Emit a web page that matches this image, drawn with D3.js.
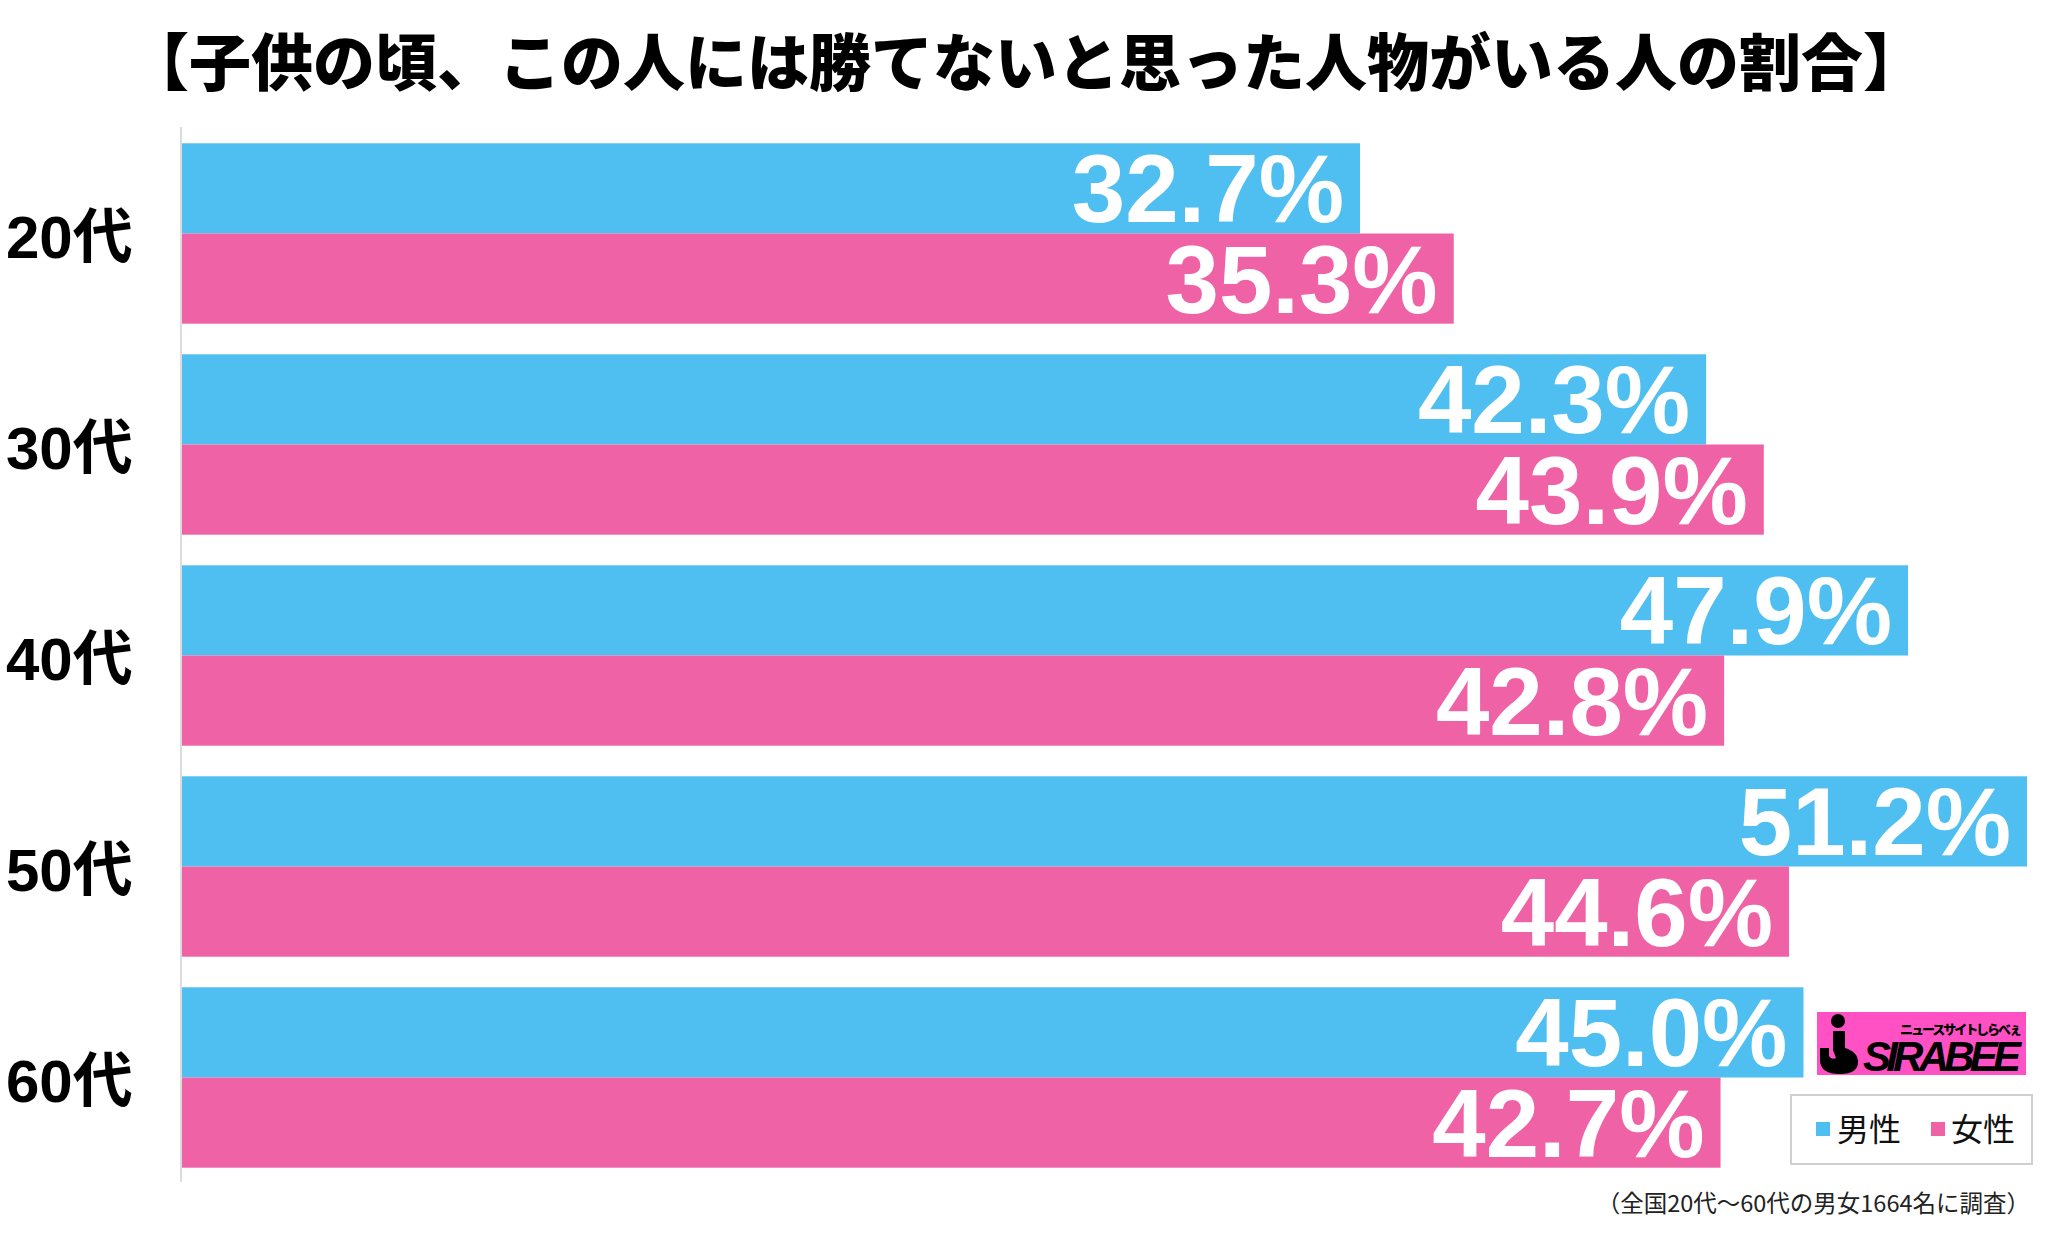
<!DOCTYPE html>
<html>
<head>
<meta charset="utf-8">
<script src="https://cdn.jsdelivr.net/npm/d3@7"></script>
<style>
  html, body { margin: 0; padding: 0; background: #fff; }
  svg { display: block; }
</style>
</head>
<body>
<svg id="chart" width="2056" height="1238"></svg>
<script>
const categories = ["20代", "30代", "40代", "50代", "60代"];
const seriesNames = ["男性", "女性"];
const maleValues = [32.7, 42.3, 47.9, 51.2, 45.0];
const femaleValues = [35.3, 43.9, 42.8, 44.6, 42.7];
const seriesColors = ["#4FBEF0", "#EF62A5"];
const titleText = "【子供の頃、この人には勝てないと思った人物がいる人の割合】";
const footnoteText = "（全国20代～60代の男女1664名に調査）";

const svg = d3.select("#chart");
const W = 2056, H = 1238;
svg.append("rect").attr("width", W).attr("height", H).attr("fill", "#fff");

const x = d3.scaleLinear().domain([0, 51.2]).range([181, 2027]);
const y = d3.scaleBand().domain(categories).range([128, 1183]).paddingInner(0.145).paddingOuter(0.0725);
const ySub = d3.scaleBand().domain(seriesNames).range([0, y.bandwidth()]).padding(0);

// title
svg.append("text")
  .attr("x", 1026).attr("y", 86)
  .attr("text-anchor", "middle")
  .attr("font-family", "'Noto Sans CJK JP', sans-serif")
  .attr("font-weight", 900)
  .attr("font-size", 62)
  .attr("fill", "#000")
  .text(titleText);

// axis line
svg.append("line")
  .attr("x1", x(0)).attr("x2", x(0))
  .attr("y1", 127).attr("y2", 1182)
  .attr("stroke", "#dcdcdc").attr("stroke-width", 2);

const data = [];
categories.forEach((c, i) => {
  data.push({cat: c, s: seriesNames[0], v: maleValues[i], color: seriesColors[0]});
  data.push({cat: c, s: seriesNames[1], v: femaleValues[i], color: seriesColors[1]});
});

const g = svg.append("g");
g.selectAll("rect.bar").data(data).enter().append("rect")
  .attr("class", "bar")
  .attr("x", x(0) + 1)
  .attr("y", d => y(d.cat) + ySub(d.s))
  .attr("width", d => x(d.v) - x(0) - 1)
  .attr("height", ySub.bandwidth())
  .attr("fill", d => d.color);

g.selectAll("text.val").data(data).enter().append("text")
  .attr("class", "val")
  .attr("x", d => x(d.v) - 16)
  .attr("y", d => y(d.cat) + ySub(d.s) + ySub.bandwidth() / 2 + 34)
  .attr("text-anchor", "end")
  .attr("font-family", "'Liberation Sans', Arial, sans-serif")
  .attr("font-weight", "bold")
  .attr("font-size", 96)
  .attr("fill", "#fff")
  .text(d => d.v.toFixed(1) + "%");

// category labels
svg.selectAll("text.cat").data(categories).enter().append("text")
  .attr("class", "cat")
  .attr("x", 6)
  .attr("y", d => y(d) + y.bandwidth() / 2 + 24)
  .attr("font-family", "'Liberation Sans', 'Noto Sans CJK JP', sans-serif")
  .attr("font-weight", "bold")
  .attr("font-size", 60)
  .attr("fill", "#000")
  .text(d => d);

// logo
const logo = svg.append("g");
logo.append("rect").attr("x", 1817).attr("y", 1012).attr("width", 209).attr("height", 63).attr("fill", "#FF50C4");
logo.append("circle").attr("cx", 1838).attr("cy", 1021).attr("r", 7).attr("fill", "#000");
logo.append("path")
  .attr("d", "M1833,1031 L1845,1031 L1845,1048 Q1858,1052 1858,1062 Q1858,1074 1840,1074 Q1820,1074 1820,1060 L1820,1048 L1829,1048 L1829,1056 Q1831,1060 1836,1058 L1833,1050 Z")
  .attr("fill", "#000");
logo.append("text")
  .attr("x", 1863).attr("y", 1071)
  .attr("font-family", "'Liberation Sans', Arial, sans-serif")
  .attr("font-weight", "bold").attr("font-style", "italic")
  .attr("font-size", 42)
  .attr("textLength", 158)
  .attr("fill", "#000")
  .text("SIRABEE");
logo.append("text")
  .attr("x", 1900).attr("y", 1034)
  .attr("font-family", "'Noto Sans CJK JP', sans-serif")
  .attr("font-weight", 900)
  .attr("font-size", 13)
  .attr("textLength", 122)
  .attr("fill", "#000")
  .text("ニュースサイトしらべぇ");

// legend
const lg = svg.append("g");
lg.append("rect").attr("x", 1791).attr("y", 1095).attr("width", 241).attr("height", 69)
  .attr("fill", "#fff").attr("stroke", "#d0d0d0").attr("stroke-width", 2);
const legendItems = [
  {name: seriesNames[0], color: seriesColors[0], sx: 1816, tx: 1837},
  {name: seriesNames[1], color: seriesColors[1], sx: 1931, tx: 1951}
];
legendItems.forEach(it => {
  lg.append("rect").attr("x", it.sx).attr("y", 1122).attr("width", 14).attr("height", 14).attr("fill", it.color);
  lg.append("text").attr("x", it.tx).attr("y", 1141)
    .attr("font-family", "'Noto Sans CJK JP', sans-serif")
    .attr("font-size", 32).attr("fill", "#111").text(it.name);
});

// footnote
svg.append("text")
  .attr("x", 2030).attr("y", 1212)
  .attr("text-anchor", "end")
  .attr("font-family", "'Noto Sans CJK JP', sans-serif")
  .attr("font-size", 23.5).attr("fill", "#222")
  .text(footnoteText);
</script>
</body>
</html>
